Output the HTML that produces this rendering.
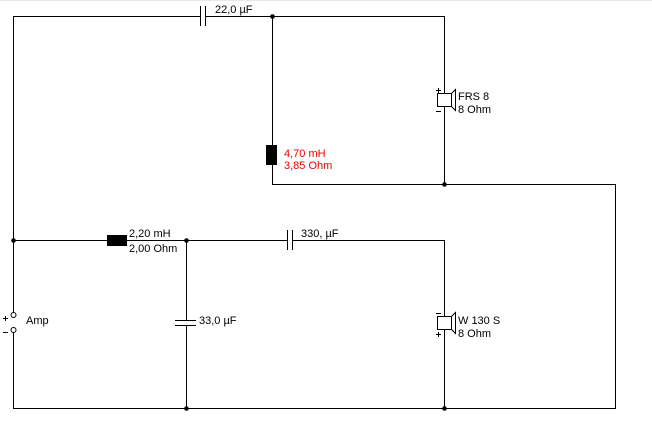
<!DOCTYPE html>
<html><head><meta charset="utf-8"><style>
html,body{margin:0;padding:0;background:#fff;}
svg{display:block;}
text{font-family:"Liberation Sans",sans-serif;font-size:11px;fill:#000;}
</style></head><body>
<svg width="652" height="437" viewBox="0 0 652 437" xmlns="http://www.w3.org/2000/svg">
<rect x="0" y="0" width="652" height="1" fill="#e8e8e8"/>
<g stroke="#000" stroke-width="1" fill="none" shape-rendering="crispEdges">
<path d="M13.5 315 V16.5 H200.5 M205.5 16.5 H444.5 V93"/>
<path d="M444.5 107 V184.5 H615.5 V408.5 H13.5 V330"/>
<path d="M272.5 16.5 V145 M272.5 165 V184.5 H444.5"/>
<path d="M13.5 240.5 H107 M127 240.5 H287.5 M292.5 240.5 H444.5 V316"/>
<path d="M444.5 330 V408.5"/>
<path d="M186.5 240.5 V320.5 M186.5 325.5 V408.5"/>
<path d="M200.5 6 V26 M205.5 6 V26"/>
<path d="M287.5 230 V250 M292.5 230 V250"/>
<path d="M175 320.5 H196 M175 325.5 H196"/>
<rect x="437.5" y="93.5" width="14" height="13"/>
<path d="M451.5 93.5 L455.5 89.5 V110.5 L451.5 106.5"/>
<rect x="437.5" y="316.5" width="14" height="13"/>
<path d="M451.5 316.5 L455.5 312.5 V333.5 L451.5 329.5"/>
<path d="M3 318.5 H8 M5.5 316 V321 M3 332.5 H8"/>
<path d="M436 90.5 H441 M438.5 88 V93 M436 111.5 H441"/>
<path d="M436 313.5 H441 M436 334.5 H441 M438.5 332 V337"/>
</g>
<g fill="#000">
<rect x="266" y="145" width="11" height="20"/>
<rect x="107" y="235" width="20" height="11"/>
<circle cx="272.5" cy="16.5" r="2.3"/>
<circle cx="444.5" cy="184.5" r="2.3"/>
<circle cx="13.5" cy="240.5" r="2.3"/>
<circle cx="186.5" cy="240.5" r="2.3"/>
<circle cx="186.5" cy="408.5" r="2.3"/>
<circle cx="444.5" cy="408.5" r="2.3"/>
</g>
<circle cx="13.5" cy="315" r="2.5" fill="#fff" stroke="#000"/>
<circle cx="13.5" cy="330" r="2.5" fill="#fff" stroke="#000"/>
<text x="215" y="13">22,0 µF</text>
<text x="284" y="157" style="fill:#e00">4,70 mH</text>
<text x="284" y="169" style="fill:#e00">3,85 Ohm</text>
<text x="129" y="237">2,20 mH</text>
<text x="129" y="252">2,00 Ohm</text>
<text x="301" y="237">330, µF</text>
<text x="199" y="324">33,0 µF</text>
<text x="26" y="324">Amp</text>
<text x="458" y="100">FRS 8</text>
<text x="458" y="113">8 Ohm</text>
<text x="458" y="324">W 130 S</text>
<text x="458" y="337">8 Ohm</text>
</svg>
</body></html>
